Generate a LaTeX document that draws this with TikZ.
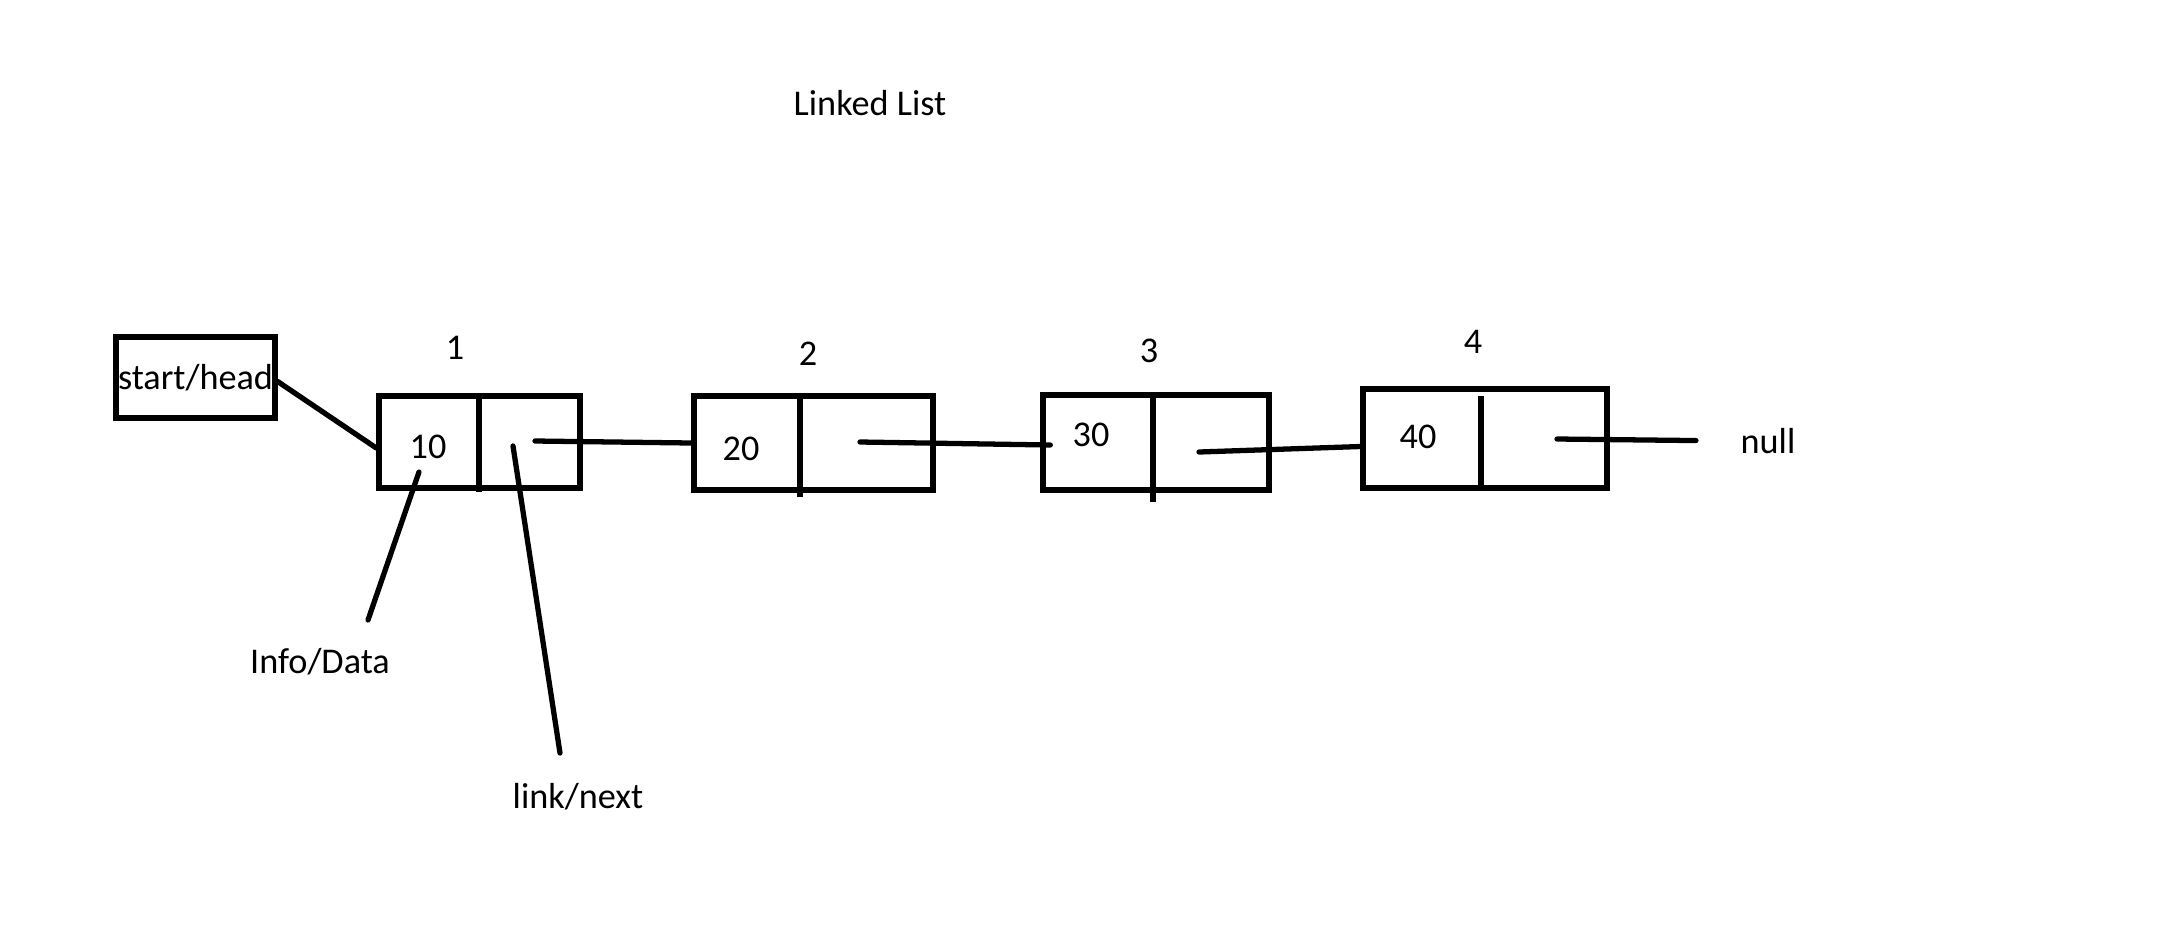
\documentclass[tikz,border=0pt]{standalone}
\usepackage{fontspec}
\setmainfont{Carlito}
\usepackage{tikz}

\begin{document}
\begin{tikzpicture}[x=0.01cm,y=-0.01cm,
  box/.style={draw,line width=1.5pt,inner sep=0pt},
  lbl/.style={inner sep=0pt,anchor=base,font=\fontsize{10.3}{12}\selectfont},
  wire/.style={line width=1.5pt,line cap=round}]
\useasboundingbox (0,0) rectangle (2176,939);
\node[lbl] (title) at (870,115) {Linked List};
% head box
\node[box,minimum width=1.59cm,minimum height=0.81cm,font=\fontsize{10.3}{12}\selectfont] (head) at (195.5,377.5) {start/head};
% the four nodes
\node[box,minimum width=2.01cm,minimum height=0.92cm] (n1) at (479.5,442) {};
\node[box,minimum width=2.39cm,minimum height=0.94cm] (n2) at (813.5,443) {};
\node[box,minimum width=2.26cm,minimum height=0.95cm] (n3) at (1156,442.5) {};
\node[box,minimum width=2.44cm,minimum height=0.99cm] (n4) at (1485,438.5) {};
\draw[line width=1.5pt] (479,396) -- (479,492); %
\draw[line width=1.5pt] (800,396) -- (800,497);
\draw[line width=1.5pt] (1153,395) -- (1153,502);
\draw[line width=1.5pt] (1481,396) -- (1481,491);
% numbers above
\node[lbl] (k1) at (455,359) {1};
\node[lbl] (k2) at (808,365) {2};
\node[lbl] (k3) at (1149,362) {3};
\node[lbl] (k4) at (1473,353) {4};
% values
\node[lbl] (v1) at (428,458) {10};
\node[lbl] (v2) at (741,460) {20};
\node[lbl] (v3) at (1091,446) {30};
\node[lbl] (v4) at (1418,448) {40};
\node[lbl] (null) at (1768,453) {null};
\node[lbl] (info) at (320,673) {Info/Data};
\node[lbl] (link) at (578,808) {link/next};
% links
\coordinate (p1) at (535,441);
\coordinate (p2) at (860,442);
\coordinate (p3) at (1199,452);
\coordinate (p4) at (1557,439);
\draw[wire] ([yshift=-0.04cm]head.east) -- ([yshift=-0.06cm]n1.west);
\draw[wire] (p1) -- (n2.west);
\draw[wire] (p2) -- ([xshift=0.1cm,yshift=-0.025cm]n3.west);
\draw[wire] (p3) -- ([yshift=-0.08cm]n4.west);
\draw[wire] (p4) -- ([xshift=-0.44cm]null.west);
% pointers to the labels
\coordinate (d1) at (419,472);
\coordinate (d2) at (368,620);
\coordinate (l1) at (513,446);
\coordinate (l2) at (560,753);
\draw[wire] (d1) -- (d2);
\draw[wire] (l1) -- (l2);
\end{tikzpicture}
\end{document}
